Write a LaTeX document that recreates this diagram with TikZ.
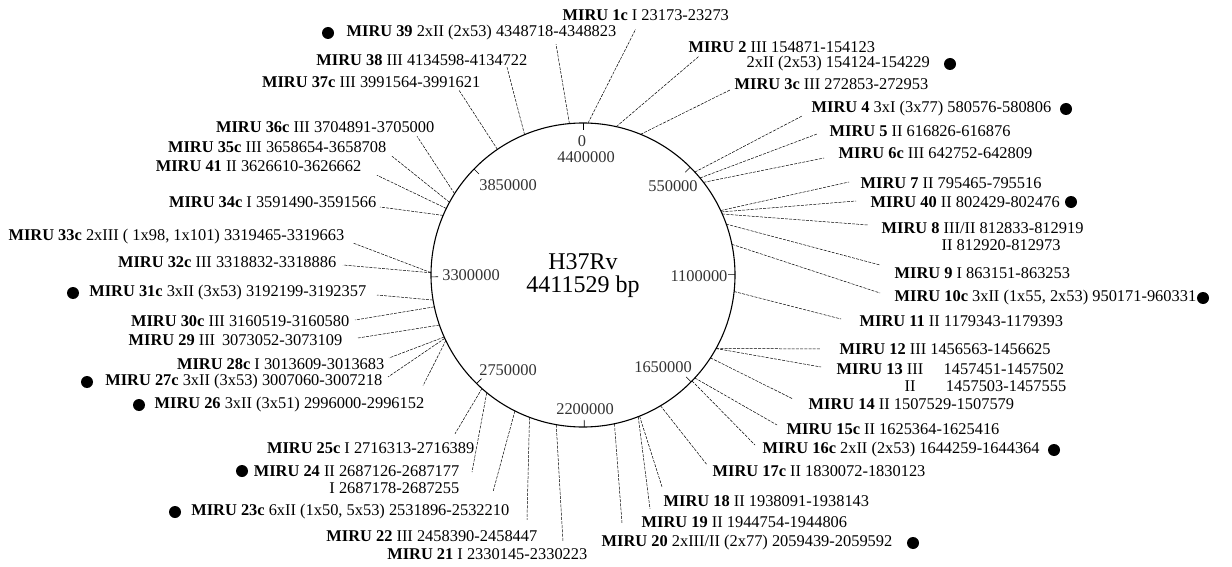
\documentclass[tikz,border=0pt]{standalone}
\usepackage{fontspec}
\setmainfont{Liberation Serif}
\usetikzlibrary{calc}
\newcommand\lblf{\fontsize{16.4}{18}\selectfont}
\newcommand\titf{\fontsize{24}{26}\selectfont}
\newcommand\cpt[2]{\coordinate (#1) at ($(c)+({152*sin(#2)},{-152*cos(#2)})$);}
\newcommand\tck[1]{\draw[line width=0.6pt] ($(c)+({152*sin(#1)},{-152*cos(#1)})$) -- ($(c)+({145*sin(#1)},{-145*cos(#1)})$);}
\begin{document}
\begin{tikzpicture}[x=1pt,y=-1pt,
  lbl/.style={font=\lblf, inner sep=1.5pt},
  lw/.style={lbl, anchor=west},
  le/.style={lbl, anchor=east},
  conn/.style={line width=0.5pt, dash pattern=on 3pt off 1.2pt},
  dotst/.style={circle, fill=black, minimum size=12pt, inner sep=0pt},
  tl/.style={font=\lblf, inner sep=0pt, text=black!80}]
\useasboundingbox[fill=white] (0,0) rectangle (1232,567);
\coordinate (c) at (583,275);
\draw[line width=1.1pt] (c) circle[radius=152pt];
% ticks
\tck{0}\tck{44.88}\tck{89.77}\tck{134.65}\tck{179.53}\tck{224.42}\tck{269.30}\tck{314.18}
\node[tl] (t0) at (582,141) {0};
\node[tl] (t44) at (586,157) {4400000};
\node[tl] (t05) at (673,186) {550000};
\node[tl] (t11) at (699,276) {1100000};
\node[tl] (t16) at (663,367) {1650000};
\node[tl] (t22) at (585,409) {2200000};
\node[tl] (t27) at (508,370) {2750000};
\node[tl] (t33) at (471,275) {3300000};
\node[tl] (t38) at (508,185) {3850000};
\node[font=\titf, inner sep=0pt] (tt1) at (583,262) {H37Rv};
\node[font=\titf, inner sep=0pt] (tt2) at (583,287) {4411529 bp};
% circle points
\cpt{p1c}{1.891}\cpt{p2}{12.638}\cpt{p3c}{22.266}\cpt{p4}{47.377}\cpt{p5}{50.336}
\cpt{p6c}{52.451}\cpt{p7}{64.913}\cpt{p40}{65.482}\cpt{p8}{66.331}\cpt{p9}{70.437}
\cpt{p10c}{78.354}\cpt{p11}{96.240}\cpt{p12}{118.862}\cpt{p13}{118.935}\cpt{p14}{123.021}
\cpt{p15c}{132.637}\cpt{p16c}{134.179}\cpt{p17c}{149.342}\cpt{p18}{158.157}\cpt{p19}{158.701}
\cpt{p20}{168.060}\cpt{p21}{190.151}\cpt{p22}{200.616}\cpt{p23c}{206.614}\cpt{p24}{219.281}
\cpt{p25c}{221.663}\cpt{p26}{244.487}\cpt{p27c}{245.389}\cpt{p28c}{245.924}\cpt{p29}{250.774}
\cpt{p30c}{257.912}\cpt{p31c}{260.497}\cpt{p32c}{270.831}\cpt{p33c}{270.883}\cpt{p34c}{293.081}
\cpt{p41}{295.947}\cpt{p35c}{298.562}\cpt{p36c}{302.335}\cpt{p37c}{325.729}\cpt{p38}{337.402}
\cpt{p39}{354.874}
% right / top labels
\node[lw] (m1c) at (561,15) {\textbf{MIRU 1c} I 23173-23273};
\node[lw] (m2) at (687,47) {\textbf{MIRU 2} III 154871-154123};
\node[lw] (m2b) at (745,64) {2xII (2x53) 154124-154229};
\node[lw] (m3c) at (733,84) {\textbf{MIRU 3c} III 272853-272953};
\node[lw] (m4) at (810,109) {\textbf{MIRU 4} 3xI (3x77) 580576-580806};
\node[lw] (m5) at (828,131) {\textbf{MIRU 5} II 616826-616876};
\node[lw] (m6c) at (837,153) {\textbf{MIRU 6c} III 642752-642809};
\node[lw] (m7) at (859,183) {\textbf{MIRU 7} II 795465-795516};
\node[lw] (m40) at (869,202) {\textbf{MIRU 40} II 802429-802476};
\node[lw] (m8) at (880,228) {\textbf{MIRU 8} III/II 812833-812919};
\node[lw] (m8b) at (940,245) {II 812920-812973};
\node[lw] (m9) at (893,273) {\textbf{MIRU 9} I 863151-863253};
\node[lw] (m10c) at (893,298) {\textbf{MIRU 10c} 3xII (1x55, 2x53) 950171-960331};
\node[lw] (m11) at (858,321) {\textbf{MIRU 11} II 1179343-1179393};
\node[lw] (m12) at (838,349) {\textbf{MIRU 12} III 1456563-1456625};
\node[lw] (m13) at (835,369) {\textbf{MIRU 13} III\hspace{1em} 1457451-1457502};
\node[lw] (m13b) at (903,386) {II\hspace{1.6em} 1457503-1457555};
\node[lw] (m14) at (807,404) {\textbf{MIRU 14} II 1507529-1507579};
\node[lw] (m15c) at (785,429) {\textbf{MIRU 15c} II 1625364-1625416};
\node[lw] (m16c) at (761,450) {\textbf{MIRU 16c} 2xII (2x53) 1644259-1644364};
\node[lw] (m17c) at (711,471) {\textbf{MIRU 17c} II 1830072-1830123};
\node[lw] (m18) at (662,501) {\textbf{MIRU 18} II 1938091-1938143};
\node[lw] (m19) at (640,522) {\textbf{MIRU 19} II 1944754-1944806};
\node[lw] (m20) at (600,543) {\textbf{MIRU 20} 2xIII/II (2x77) 2059439-2059592};
% left labels
\node[le] (m39) at (618,33) {\textbf{MIRU 39} 2xII (2x53) 4348718-4348823};
\node[le] (m38) at (529,60) {\textbf{MIRU 38} III 4134598-4134722};
\node[le] (m37c) at (482,82) {\textbf{MIRU 37c} III 3991564-3991621};
\node[le] (m36c) at (436,127) {\textbf{MIRU 36c} III 3704891-3705000};
\node[le] (m35c) at (388,147) {\textbf{MIRU 35c} III 3658654-3658708};
\node[le] (m41) at (363,166) {\textbf{MIRU 41} II 3626610-3626662};
\node[le] (m34c) at (378,202) {\textbf{MIRU 34c} I 3591490-3591566};
\node[le] (m33c) at (346,237) {\textbf{MIRU 33c} 2xIII ( 1x98, 1x101) 3319465-3319663};
\node[le] (m32c) at (338,262) {\textbf{MIRU 32c} III 3318832-3318886};
\node[le] (m31c) at (368,293) {\textbf{MIRU 31c} 3xII (3x53) 3192199-3192357};
\node[le] (m30c) at (351,321) {\textbf{MIRU 30c} III 3160519-3160580};
\node[le] (m29) at (344,340) {\textbf{MIRU 29} III\, 3073052-3073109};
\node[le] (m28c) at (386,364) {\textbf{MIRU 28c} I 3013609-3013683};
\node[le] (m27c) at (384,382) {\textbf{MIRU 27c} 3xII (3x53) 3007060-3007218};
\node[le] (m26) at (426,405) {\textbf{MIRU 26} 3xII (3x51) 2996000-2996152};
\node[le] (m25c) at (476,448) {\textbf{MIRU 25c} I 2716313-2716389};
\node[le] (m24) at (461,471) {\textbf{MIRU 24} II 2687126-2687177};
\node[le] (m24b) at (461,488) {I 2687178-2687255};
\node[le] (m23c) at (511,512) {\textbf{MIRU 23c} 6xII (1x50, 5x53) 2531896-2532210};
\node[le] (m22) at (539,536) {\textbf{MIRU 22} III 2458390-2458447};
\node[le] (m21) at (589,554) {\textbf{MIRU 21} I 2330145-2330223};
% dots
\node[dotst] (d39) at (328,33) {};
\node[dotst] (d2) at (950,64) {};
\node[dotst] (d4) at (1066,109) {};
\node[dotst] (d40) at (1071,202) {};
\node[dotst] (d10c) at (1203,298) {};
\node[dotst] (d16c) at (1054,450) {};
\node[dotst] (d20) at (913,543) {};
\node[dotst] (d31c) at (73,293) {};
\node[dotst] (d27c) at (87,382) {};
\node[dotst] (d26) at (139,405) {};
\node[dotst] (d24) at (242,471) {};
\node[dotst] (d23c) at (175,512) {};
% connectors
\draw[conn] (p1c) -- ($(m1c.south west)!0.44!(m1c.south east)+(0,7)$);
\draw[conn] (p2) -- ($(m2.south west)+(12,2)$);
\draw[conn] (p3c) -- ($(m3c.west)+(-3,6)$);
\draw[conn] (p4) -- ($(m4.west)+(-8,7)$);
\draw[conn] (p5) -- ($(m5.west)+(-11,3)$);
\draw[conn] (p6c) -- ($(m6c.west)+(-13,5)$);
\draw[conn] (p7) -- ($(m7.west)+(-10,-1)$);
\draw[conn] (p40) -- ($(m40.west)+(-13,-1)$);
\draw[conn] (p8) -- ($(m8.west)+(-12,-3)$);
\draw[conn] (p9) -- ($(m9.west)+(-13,-8)$);
\draw[conn] (p10c) -- ($(m10c.west)+(-13,-5)$);
\draw[conn] (p11) -- ($(m11.west)+(-17,-2)$);
\draw[conn] (p12) -- ($(m12.west)+(-17,0)$);
\draw[conn] (p13) -- ($(m13.west)+(-14,-2)$);
\draw[conn] (p14) -- ($(m14.west)+(-14,-5)$);
\draw[conn] (p15c) -- ($(m15c.west)+(-8,-4)$);
\draw[conn] (p16c) -- ($(m16c.west)+(-6,-5)$);
\draw[conn] (p17c) -- ($(m17c.north west)+(-4,1)$);
\draw[conn] (p18) -- ($(m18.north west)+(0,-7)$);
\draw[conn] (p19) -- ($(m19.north west)+(10,-6)$);
\draw[conn] (p20) -- ($(m20.north west)+(22,-11)$);
\draw[conn] (p21) -- ($(m21.north east)+(-26,-5)$);
\draw[conn] (p22) -- ($(m22.north east)+(-12,-9)$);
\draw[conn] (p23c) -- ($(m23c.north east)+(-18,-11)$);
\draw[conn] (p24) -- ($(m24.east)+(11,1)$);
\draw[conn] (p25c) -- ($(m25c.north east)+(-21,-7)$);
\draw[conn] (p26) -- ($(m26.north east)+(-3,-10)$);
\draw[conn] (p27c) -- ($(m27c.east)+(4,-5)$);
\draw[conn] (p28c) -- ($(m28c.east)+(3,-6)$);
\draw[conn] (p29) -- ($(m29.east)+(14,-2)$);
\draw[conn] (p30c) -- ($(m30c.east)+(4,-1)$);
\draw[conn] (p31c) -- ($(m31c.east)+(9,2)$);
\draw[conn] (p32c) -- ($(m32c.east)+(5,3)$);
\draw[conn] (p33c) -- ($(m33c.east)+(7,6)$);
\draw[conn] (p34c) -- ($(m34c.east)+(2,5)$);
\draw[conn] (p41) -- ($(m41.south east)+(14,2)$);
\draw[conn] (p35c) -- ($(m35c.south east)+(4,2)$);
\draw[conn] (p36c) -- ($(m36c.south east)+(-19,2)$);
\draw[conn] (p37c) -- ($(m37c.south east)+(-23,1)$);
\draw[conn] (p38) -- ($(m38.south east)+(-22,0)$);
\draw[conn] (p39) -- ($(m39.south east)+(-62,2)$);
\end{tikzpicture}
\end{document}
